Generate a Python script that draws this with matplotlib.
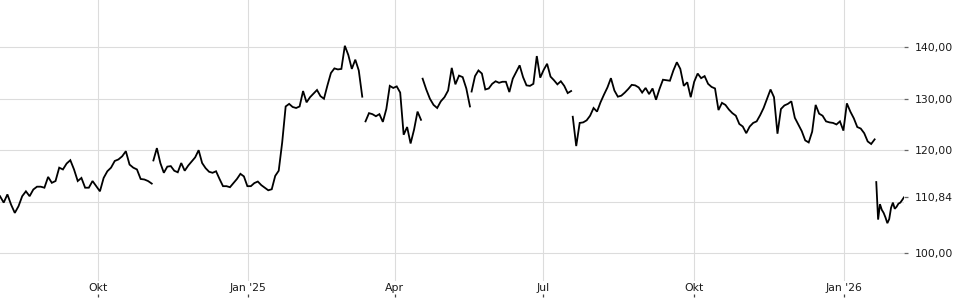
#!/usr/bin/env python3
"""
Share price chart, Aug 2024 - Feb 2026.
Right-hand price axis with the last close marked.
"""

import matplotlib
matplotlib.use('Agg')
import matplotlib.pyplot as plt
import matplotlib.dates as mdates
import numpy as np
import pandas as pd

# --- Theme ---
LINE = '#000000'
GRID = '#dcdcdc'
TEXT = '#1a1a1a'
TICK = '#444444'

DPI = 100
FIGSIZE = (960 / DPI, 300 / DPI)

# --- Data (one list per trading segment) ---
SEG1_RANGE = ('2024-08-02', '2024-11-03')
SEG1 = [111.05, 109.8, 111.4, 109.4, 107.8, 109.1, 111.05, 112.0, 111.05, 112.35,
        112.9, 112.9, 112.7, 114.8, 113.65, 114.0, 116.6, 116.25, 117.4, 118.05,
        116.25, 114.0, 114.6, 112.7, 112.7, 114.0, 113.0, 112.0, 114.6, 115.9,
        116.6, 117.9, 118.2, 118.8, 119.8, 117.2, 116.6, 116.25, 114.4, 114.3,
        114.0, 113.5]

SEG2_RANGE = ('2024-11-04', '2025-03-12')
SEG2 = [118.0, 120.4, 117.5, 115.6, 116.8, 116.9, 116.0, 115.7, 117.5, 116.0,
        117.0, 117.8, 118.6, 120.0, 117.5, 116.5, 115.8, 115.6, 115.9, 114.4,
        113.0, 113.0, 112.8, 113.6, 114.4, 115.4, 114.9, 113.0, 113.0, 113.6,
        113.9, 113.2, 112.7, 112.2, 112.4, 115.0, 116.0, 121.5, 128.5, 129.0,
        128.4, 128.2, 128.5, 131.5, 129.3, 130.3, 131.0, 131.7, 130.5, 130.0,
        132.6, 135.0, 135.9, 135.7, 135.8, 140.3, 138.5, 135.8, 137.6, 135.5,
        130.4]

SEG3_RANGE = ('2025-03-14', '2025-04-17')
SEG3 = [125.6, 127.2, 127.0, 126.6, 127.0, 125.5, 128.0, 132.5, 132.1, 132.4,
        131.2, 123.0, 124.5, 121.3, 124.0, 127.5, 125.9]

SEG4_RANGE = ('2025-04-18', '2025-05-17')
SEG4 = [133.9, 131.8, 130.0, 128.8, 128.2, 129.5, 130.3, 131.6, 136.0, 132.8,
        134.5, 134.2, 132.0, 128.5]

SEG5_RANGE = ('2025-05-18', '2025-07-18')
SEG5 = [131.4, 134.4, 135.5, 134.9, 131.8, 132.0, 132.9, 133.4, 133.1, 133.3,
        133.3, 131.3, 133.9, 135.2, 136.5, 134.2, 132.6, 132.5, 132.9, 138.3,
        134.1, 135.6, 136.8, 134.3, 133.6, 132.8, 133.4, 132.5, 131.1, 131.5]

SEG6_RANGE = ('2025-07-19', '2026-01-20')
SEG6 = [126.5, 120.8, 125.3, 125.4, 125.8, 126.7, 128.2, 127.5, 129.3, 130.8,
        132.2, 134.0, 131.6, 130.4, 130.6, 131.2, 131.9, 132.7, 132.6, 132.2,
        131.2, 132.1, 130.9, 132.0, 129.8, 131.9, 133.7, 133.6, 133.5, 135.5,
        137.1, 135.8, 132.5, 133.2, 130.3, 133.3, 134.9, 134.0, 134.4, 132.9,
        132.3, 132.0, 127.8, 129.2, 128.8, 127.9, 127.2, 126.7, 125.1, 124.6,
        123.3, 124.6, 125.3, 125.6, 126.8, 128.2, 130.0, 131.8, 130.3, 123.2,
        128.0, 128.7, 129.0, 129.5, 126.3, 125.0, 123.7, 121.9, 121.5, 123.6,
        128.8, 127.1, 126.7, 125.6, 125.4, 125.3, 125.0, 125.6, 123.8, 129.1,
        127.5, 126.2, 124.5, 124.2, 123.3, 121.7, 121.2, 122.1]

SEG7_RANGE = ('2026-01-21', '2026-02-07')
SEG7 = [113.8, 106.5, 109.5, 108.4, 107.8, 106.9, 105.8, 106.6, 108.8, 109.8,
        108.6, 109.0, 109.6, 109.8, 110.3, 110.84]

LAST_PRICE = 110.84

X_TICKS = ['2024-10-01', '2025-01-01', '2025-04-01', '2025-07-01', '2025-10-01', '2026-01-01']
X_LABELS = ['Okt', "Jan '25", 'Apr', 'Jul', 'Okt', "Jan '26"]
Y_GRID = [100, 110, 120, 130, 140]
Y_TICKS = [100, 120, 130, 140]

X_LIM = ('2024-08-02', '2026-02-07')
Y_LIM = (94.56, 149.2)


def build_series():
    """Stitch the segments together with NaN breaks between them."""
    segs = [(SEG1_RANGE, SEG1), (SEG2_RANGE, SEG2), (SEG3_RANGE, SEG3), (SEG4_RANGE, SEG4),
            (SEG5_RANGE, SEG5), (SEG6_RANGE, SEG6), (SEG7_RANGE, SEG7)]
    dates, vals = [], []
    for (start, end), values in segs:
        idx = pd.date_range(start, end, periods=len(values))
        dates.extend(idx)
        vals.extend(values)
        # break the line
        dates.append(idx[-1] + pd.Timedelta(hours=12))
        vals.append(np.nan)
    return pd.Series(vals, index=pd.DatetimeIndex(dates))


def fmt_price(v):
    return f'{v:.2f}'.replace('.', ',')


def main():
    s = build_series()

    fig = plt.figure(figsize=FIGSIZE, dpi=DPI)
    fig.set_facecolor('white')
    ax = fig.add_axes([0, 19 / 300, 904 / 960, 281 / 300])

    ax.plot(s.index, s.values, color=LINE, lw=1.3, solid_joinstyle='miter', zorder=3)

    ax.set_xlim(pd.Timestamp(X_LIM[0]), pd.Timestamp(X_LIM[1]))
    ax.set_ylim(*Y_LIM)

    for sp in ax.spines.values():
        sp.set_visible(False)

    # x axis: labels below the plot, tiny tick marks underneath them
    xt = [mdates.date2num(pd.Timestamp(d)) for d in X_TICKS]
    ax.set_xticks(xt)
    ax.set_xticklabels(X_LABELS)
    ax.tick_params(axis='x', length=0, pad=1.5, labelsize=7.8, labelcolor=TEXT)
    ax.grid(axis='x', color=GRID, lw=0.8, zorder=0)

    sec = ax.secondary_xaxis(-0.057)
    sec.set_xticks(xt)
    sec.tick_params(axis='x', direction='in', length=2.5, width=0.9, color=TICK, labelbottom=False)
    for sp in sec.spines.values():
        sp.set_visible(False)

    # y axis on the right, grid every 10, last price as its own tick
    ax.yaxis.tick_right()
    ax.yaxis.remove_overlapping_locs = False
    ax.set_yticks(Y_TICKS + [LAST_PRICE])
    ax.set_yticklabels([fmt_price(v) for v in Y_TICKS + [LAST_PRICE]])
    ax.set_yticks(Y_GRID, minor=True)
    ax.tick_params(axis='y', which='major', length=3, width=0.9, color='#666666', pad=5,
                   labelsize=7.8, labelcolor=TEXT)
    ax.tick_params(axis='y', which='minor', length=0)
    ax.yaxis.get_major_ticks()[-1].tick2line.set_color(LINE)
    ax.grid(axis='y', which='minor', color=GRID, lw=0.8, zorder=0)

    fig.savefig('out.png', dpi=DPI, facecolor='white')
    plt.close(fig)


if __name__ == '__main__':
    main()
